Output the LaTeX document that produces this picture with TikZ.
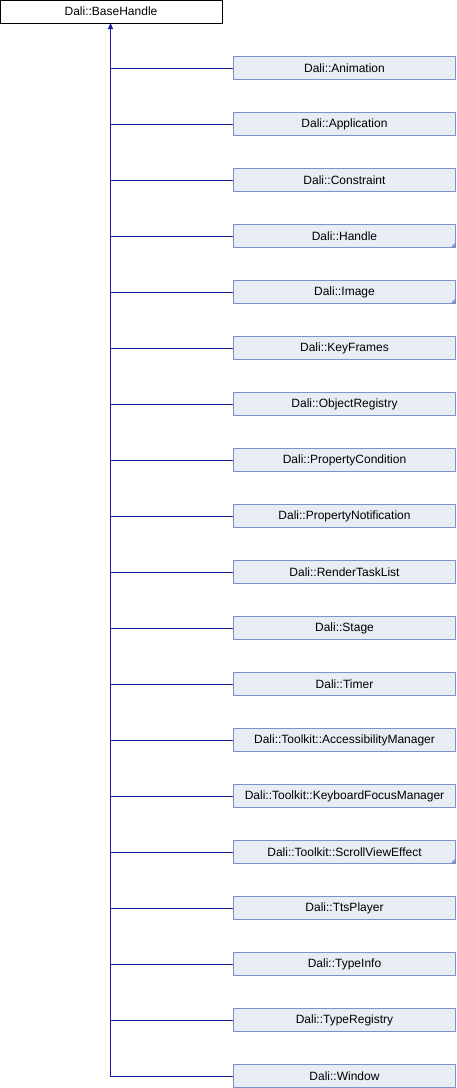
\documentclass[tikz,border=0pt]{standalone}
\usepackage{fontspec}
\setmainfont{Liberation Sans}
\usetikzlibrary{arrows.meta}
\definecolor{boxfill}{HTML}{E8ECF5}
\definecolor{boxline}{HTML}{7C92C8}
\definecolor{linkcol}{HTML}{1A1A9C}
\tikzset{
  rootbox/.style={draw=black, fill=white, line width=1pt, minimum width=222pt, minimum height=23pt, inner sep=0pt, font=\fontsize{12}{14}\selectfont},
  childbox/.style={draw=boxline, fill=boxfill, line width=1pt, minimum width=222pt, minimum height=23pt, inner sep=0pt, font=\fontsize{12}{14}\selectfont},
  link/.style={color=linkcol, line width=1pt},
  inh/.style={link, -{Triangle[length=6pt,width=5pt]}},
  corner/.style={fill=boxline, draw=none}
}
\begin{document}
\begin{tikzpicture}[x=1pt,y=-1pt]
\useasboundingbox (0,0) rectangle (456,1088);
\node[rootbox] (root) at (111,11.5) {Dali::BaseHandle};
\coordinate (t) at (110.5,23);
\foreach \name/\flag [count=\k] in {Animation/0,Application/0,Constraint/0,Handle/1,Image/1,KeyFrames/0,ObjectRegistry/0,PropertyCondition/0,PropertyNotification/0,RenderTaskList/0,Stage/0,Timer/0,Toolkit::AccessibilityManager/0,Toolkit::KeyboardFocusManager/0,Toolkit::ScrollViewEffect/1,TtsPlayer/0,TypeInfo/0,TypeRegistry/0,Window/0}{
  \node[childbox] (c\k) at (344.5,{68+56*(\k-1)}) {Dali::\name};
  \ifnum\flag=1
    \fill[corner] ([xshift=-0.5pt,yshift=0.5pt]c\k.south east) -- ++(-5,0) -- ++(5,-5) -- cycle;
  \fi
  \ifnum\k<19
    \draw[link] ([yshift=-0.5pt]c\k.west) -- ([yshift=-0.5pt]c\k.west -| t);
  \fi
}
\draw[inh] ([yshift=-0.5pt]c19.west) -| (t);
\end{tikzpicture}
\end{document}
